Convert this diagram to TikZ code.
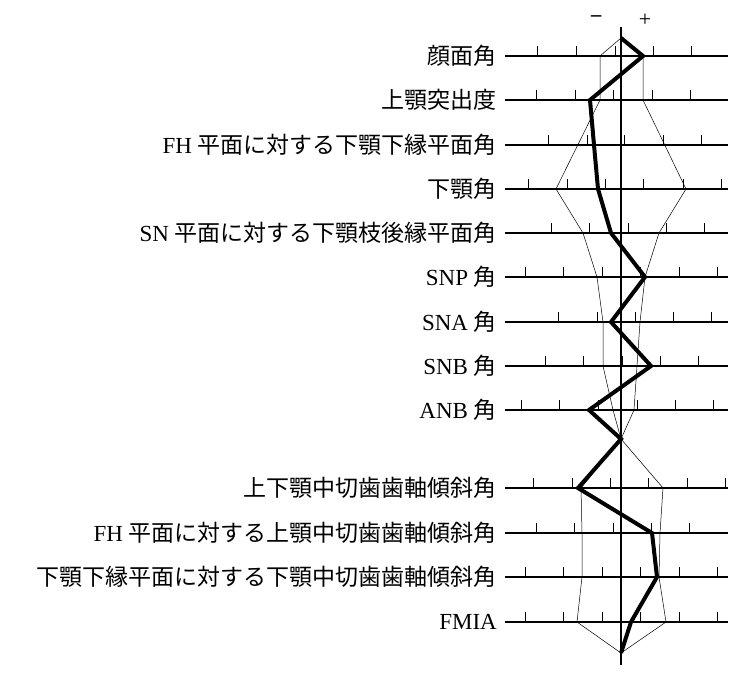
\documentclass[tikz,border=0pt]{standalone}
\usepackage{fontspec}
\setmainfont{Liberation Serif}
\newfontfamily\cjk{Noto Sans CJK JP}
\begin{document}
\begin{tikzpicture}[x=1pt,y=-1pt,
 axis/.style={line width=1.3pt},
 tk/.style={line width=0.9pt},
 sd/.style={line width=0.5pt},
 mean/.style={line width=4pt,line join=miter},
 lab/.style={anchor=east,font=\fontsize{23}{23}\selectfont,inner sep=0pt}]
\useasboundingbox (0,0) rectangle (741,680);
\draw[axis] (621,27) -- (621,665);
\node[font=\fontsize{22}{22}\selectfont] (mi) at (597,20) {\cjk −};
\node[font=\fontsize{22}{22}\selectfont] (pl) at (645,20) {+};
% rows: y, label, ticks
\def\row#1#2#3#4{\draw[axis] (505,#1) -- (728,#1);
 \node[lab] (#4) at (497,#1) {#2};
 \foreach \t in {#3} \draw[tk] (\t,#1) -- (\t,#1-10);}
\row{56}{\cjk 顔面角}{537,576,615,653,691}{r1}
\row{100}{\cjk 上顎突出度}{536,575,613,652,690}{r2}
\row{145}{FH {\cjk 平面に対する下顎下縁平面角}}{548,587,624,663,701}{r3}
\row{189}{\cjk 下顎角}{528,567,605,643,683,721}{r4}
\row{233}{SN {\cjk 平面に対する下顎枝後縁平面角}}{551,589,628,666,704}{r5}
\row{277}{SNP {\cjk 角}}{525,563,602,640,679,717}{r6}
\row{322}{SNA {\cjk 角}}{558,597,635,673,711}{r7}
\row{366}{SNB {\cjk 角}}{545,583,622,660,698}{r8}
\row{410}{ANB {\cjk 角}}{521,559,598,637,675,713}{r9}
\row{488}{\cjk 上下顎中切歯歯軸傾斜角}{533,572,610,648,687,725}{r11}
\row{533}{FH {\cjk 平面に対する上顎中切歯歯軸傾斜角}}{536,574,613,651,689}{r12}
\row{577}{\cjk 下顎下縁平面に対する下顎中切歯歯軸傾斜角}{525,563,602,640,679,717}{r13}
\row{622}{FMIA}{525,563,602,640,679,717}{r14}
\coordinate (top) at (621,38);
\coordinate (mid) at (621,439);
\coordinate (bot) at (621,653);
\draw[sd] (top) -- (600,56) -- (600,100) -- (556,189) -- (583,233) -- (597,277) -- (603,322) -- (603,366) -- (613,410) -- (mid)
 -- (663,488) -- (660,533) -- (659,577) -- (666,622) -- (bot);
\draw[sd] (top) -- (643,56) -- (643,100) -- (686,189) -- (659,233) -- (645,277) -- (640,322) -- (637,366) -- (634,410) -- (mid)
 -- (581,488) -- (582,533) -- (582,577) -- (577,622) -- (bot);
\draw[mean] (top) -- (643,56) -- (590,100) -- (594,145) -- (598,189) -- (611,233) -- (645,277) -- (611,322) -- (651,366) -- (589,410) -- (mid)
 -- (578,488) -- (652,533) -- (657,577) -- (631,622) -- (bot);
\end{tikzpicture}
\end{document}
